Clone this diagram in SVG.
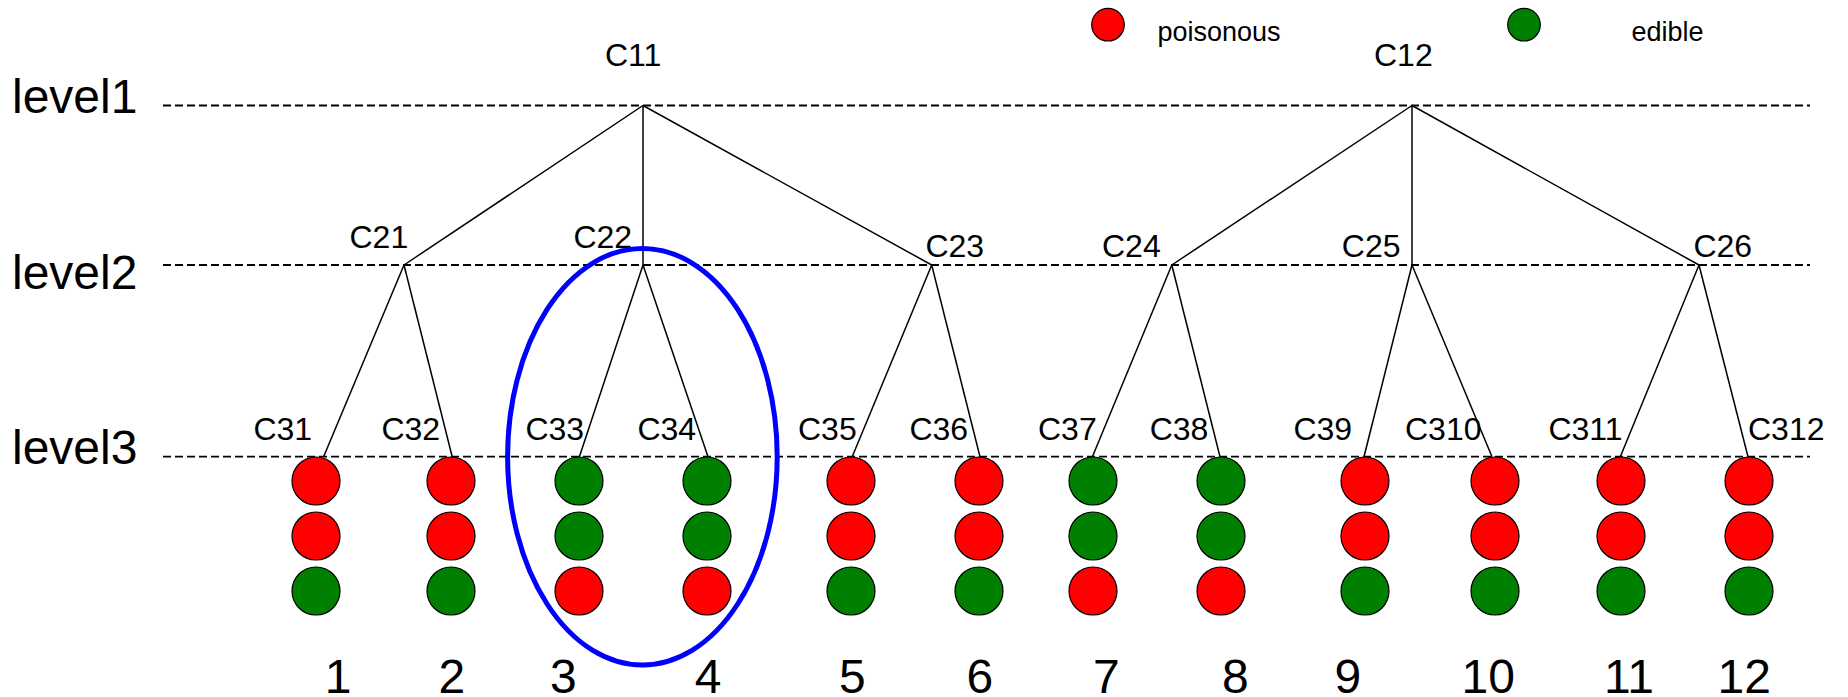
<svg xmlns="http://www.w3.org/2000/svg" width="1848" height="697" viewBox="0 0 1848 697">
  <style>
    .level { fill: none; stroke: #000; stroke-width: 1.8; stroke-dasharray: 8 4; }
    .edge { fill: none; stroke: #000; stroke-width: 1.5; }
    .lvl { font-family: "Liberation Sans", Arial, sans-serif; font-size: 48px; fill: #000; }
    .lbl { font-family: "Liberation Sans", Arial, sans-serif; font-size: 32px; fill: #000; }
    .num { font-family: "Liberation Sans", Arial, sans-serif; font-size: 48px; fill: #000; }
    .leg { font-family: "Liberation Sans", Arial, sans-serif; font-size: 27px; fill: #000; }
    .p { fill: #FF0000; stroke: #000; stroke-width: 1.2; }
    .e { fill: #008000; stroke: #000; stroke-width: 1.2; }
    .sel { fill: none; stroke: #0000FF; stroke-width: 5; }
  </style>
  <defs>
    <!-- one column of three samples: top, middle, bottom -->
    <circle id="dot" r="24"/>
  </defs>
  <rect width="1848" height="697" fill="#fff"/>

  <!-- legend -->
  <g id="legend">
    <circle class="p" cx="1108" cy="24.7" r="16.3"/>
    <text class="leg" x="1157.5" y="40.5">poisonous</text>
    <circle class="e" cx="1524" cy="24.7" r="16.3"/>
    <text class="leg" x="1631.5" y="40.5">edible</text>
  </g>

  <!-- level guides -->
  <g id="levels">
    <line class="level" x1="163" y1="105.5" x2="1810" y2="105.5"/>
    <line class="level" x1="163" y1="265" x2="1810" y2="265"/>
    <line class="level" x1="163" y1="456.7" x2="1810" y2="456.7"/>
    <text class="lvl" x="12" y="113.3">level1</text>
    <text class="lvl" x="12" y="289.3">level2</text>
    <text class="lvl" x="12" y="464.3">level3</text>
  </g>

  <!-- tree edges -->
  <g id="connectors">
    <line class="edge" x1="643" y1="105.5" x2="404" y2="265"/>
    <line class="edge" x1="643" y1="105.5" x2="643" y2="265"/>
    <line class="edge" x1="643" y1="105.5" x2="931.7" y2="265"/>
    <line class="edge" x1="1412" y1="105.5" x2="1171.8" y2="265"/>
    <line class="edge" x1="1412" y1="105.5" x2="1412" y2="265"/>
    <line class="edge" x1="1412" y1="105.5" x2="1699" y2="265"/>
    <line class="edge" x1="404" y1="265" x2="323.6" y2="456.7"/>
    <line class="edge" x1="404" y1="265" x2="452.2" y2="456.7"/>
    <line class="edge" x1="643" y1="265" x2="579.4" y2="456.7"/>
    <line class="edge" x1="643" y1="265" x2="708" y2="456.7"/>
    <line class="edge" x1="931.7" y1="265" x2="852.2" y2="456.7"/>
    <line class="edge" x1="931.7" y1="265" x2="980" y2="456.7"/>
    <line class="edge" x1="1171.8" y1="265" x2="1092.4" y2="456.7"/>
    <line class="edge" x1="1171.8" y1="265" x2="1220" y2="456.7"/>
    <line class="edge" x1="1412" y1="265" x2="1364" y2="456.7"/>
    <line class="edge" x1="1412" y1="265" x2="1492" y2="456.7"/>
    <line class="edge" x1="1699" y1="265" x2="1620.3" y2="456.7"/>
    <line class="edge" x1="1699" y1="265" x2="1748" y2="456.7"/>
  </g>

  <!-- level 1 nodes -->
  <g id="C11"><text class="lbl" x="605" y="66">C11</text></g>
  <g id="C12"><text class="lbl" x="1374" y="66">C12</text></g>

  <!-- level 2 nodes -->
  <g id="C21"><text class="lbl" x="349.5" y="247.7">C21</text></g>
  <g id="C22"><text class="lbl" x="573.4" y="247.7">C22</text></g>
  <g id="C23"><text class="lbl" x="925.4" y="257.3">C23</text></g>
  <g id="C24"><text class="lbl" x="1102" y="257.3">C24</text></g>
  <g id="C25"><text class="lbl" x="1341.8" y="257.3">C25</text></g>
  <g id="C26"><text class="lbl" x="1693.4" y="257.3">C26</text></g>

  <!-- level 3 nodes: label, three samples, index -->
  <g id="C31">
    <text class="lbl" x="253.4" y="440">C31</text>
    <use href="#dot" class="p" x="316" y="481"/><use href="#dot" class="p" x="316" y="536"/><use href="#dot" class="e" x="316" y="591"/>
    <text class="num" x="324.8" y="693">1</text>
  </g>
  <g id="C32">
    <text class="lbl" x="381.4" y="440">C32</text>
    <use href="#dot" class="p" x="451" y="481"/><use href="#dot" class="p" x="451" y="536"/><use href="#dot" class="e" x="451" y="591"/>
    <text class="num" x="438.6" y="693">2</text>
  </g>
  <g id="C33">
    <text class="lbl" x="525.4" y="440">C33</text>
    <use href="#dot" class="e" x="579" y="481"/><use href="#dot" class="e" x="579" y="536"/><use href="#dot" class="p" x="579" y="591"/>
    <text class="num" x="550" y="693">3</text>
  </g>
  <g id="C34">
    <text class="lbl" x="637.4" y="440">C34</text>
    <use href="#dot" class="e" x="707" y="481"/><use href="#dot" class="e" x="707" y="536"/><use href="#dot" class="p" x="707" y="591"/>
    <text class="num" x="694.8" y="693">4</text>
  </g>
  <g id="C35">
    <text class="lbl" x="798" y="440">C35</text>
    <use href="#dot" class="p" x="851" y="481"/><use href="#dot" class="p" x="851" y="536"/><use href="#dot" class="e" x="851" y="591"/>
    <text class="num" x="839" y="693">5</text>
  </g>
  <g id="C36">
    <text class="lbl" x="909.4" y="440">C36</text>
    <use href="#dot" class="p" x="979" y="481"/><use href="#dot" class="p" x="979" y="536"/><use href="#dot" class="e" x="979" y="591"/>
    <text class="num" x="966.5" y="693">6</text>
  </g>
  <g id="C37">
    <text class="lbl" x="1038" y="440">C37</text>
    <use href="#dot" class="e" x="1093" y="481"/><use href="#dot" class="e" x="1093" y="536"/><use href="#dot" class="p" x="1093" y="591"/>
    <text class="num" x="1093" y="693">7</text>
  </g>
  <g id="C38">
    <text class="lbl" x="1149.7" y="440">C38</text>
    <use href="#dot" class="e" x="1221" y="481"/><use href="#dot" class="e" x="1221" y="536"/><use href="#dot" class="p" x="1221" y="591"/>
    <text class="num" x="1222" y="693">8</text>
  </g>
  <g id="C39">
    <text class="lbl" x="1293.4" y="440">C39</text>
    <use href="#dot" class="p" x="1365" y="481"/><use href="#dot" class="p" x="1365" y="536"/><use href="#dot" class="e" x="1365" y="591"/>
    <text class="num" x="1334.4" y="693">9</text>
  </g>
  <g id="C310">
    <text class="lbl" x="1405" y="440">C310</text>
    <use href="#dot" class="p" x="1495" y="481"/><use href="#dot" class="p" x="1495" y="536"/><use href="#dot" class="e" x="1495" y="591"/>
    <text class="num" x="1461.5" y="693">10</text>
  </g>
  <g id="C311">
    <text class="lbl" x="1548.4" y="440">C311</text>
    <use href="#dot" class="p" x="1621" y="481"/><use href="#dot" class="p" x="1621" y="536"/><use href="#dot" class="e" x="1621" y="591"/>
    <text class="num" x="1604" y="693">11</text>
  </g>
  <g id="C312">
    <text class="lbl" x="1748" y="440">C312</text>
    <use href="#dot" class="p" x="1749" y="481"/><use href="#dot" class="p" x="1749" y="536"/><use href="#dot" class="e" x="1749" y="591"/>
    <text class="num" x="1717.6" y="693">12</text>
  </g>

  <!-- highlighted subtree -->
  <g id="selection">
    <ellipse class="sel" cx="642.4" cy="456.7" rx="134.8" ry="208.3"/>
  </g>
</svg>
